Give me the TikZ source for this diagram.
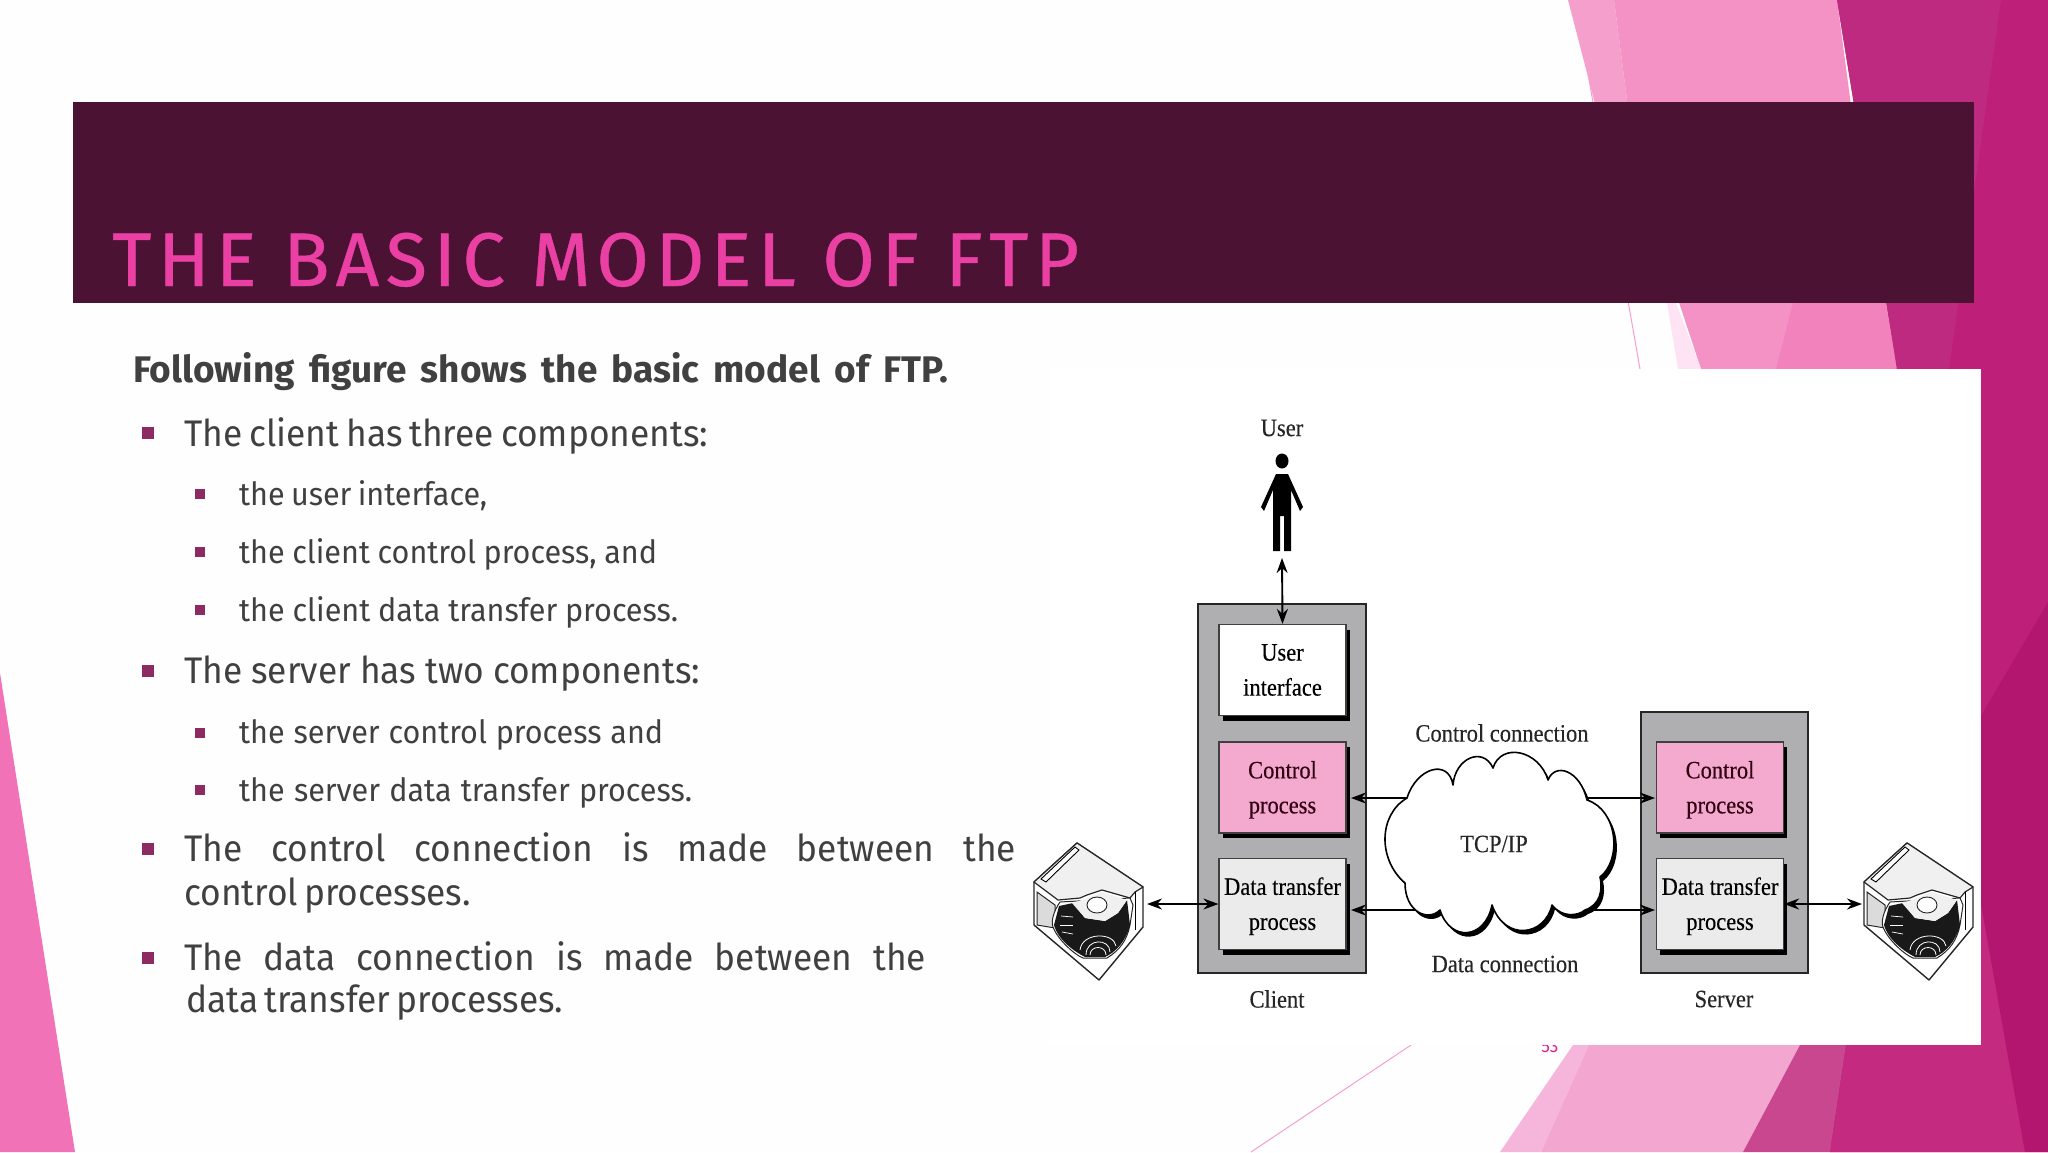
\documentclass[tikz,border=0pt]{standalone}
\usepackage{fontspec}
\usetikzlibrary{arrows.meta,shadows}
\setmainfont[FakeStretch=0.955]{Fira Sans}
\newfontfamily\leadfont{Fira Sans}
\newfontfamily\figfont[FakeStretch=0.9,FakeBold=0.25]{Liberation Serif}
\newfontfamily\titlefont[LetterSpace=8.5,FakeBold=0.6]{Fira Sans}
\definecolor{bodytext}{HTML}{404040}
\definecolor{bullet}{HTML}{8E2A62}
\definecolor{barcol}{HTML}{4B1234}
\definecolor{titlecol}{HTML}{EA3FA3}
\definecolor{outergrey}{HTML}{AFAFB1}
\definecolor{procpink}{HTML}{F4A9CE}
\definecolor{procgrey}{HTML}{EBEBEC}
\definecolor{pgback}{HTML}{FFFEFF}
\definecolor{leftpink}{HTML}{F272B8}
\definecolor{paleA}{HTML}{F5A0CC}
\definecolor{pinkA}{HTML}{F492C6}
\definecolor{pinkB}{HTML}{F282BC}
\definecolor{paleB}{HTML}{FDE3F3}
\definecolor{magA}{HTML}{BE2A80}
\definecolor{magB}{HTML}{BE1F78}
\definecolor{magC}{HTML}{C42A7F}
\definecolor{magD}{HTML}{B3166E}
\definecolor{roseA}{HTML}{C8478F}
\definecolor{lowA}{HTML}{F2A6D0}
\definecolor{lowB}{HTML}{F6B5DA}
\definecolor{pgnum}{HTML}{E0218A}
\newcommand{\txtline}[6]{\node[anchor=base west,inner sep=0pt,text=bodytext,font=#1] (#2) at (#3,#4) {\makebox[#5pt][s]{#6}};}
\newcommand{\bigbul}[2]{\fill[bullet] (#1-6,#2-6) rectangle (#1+6,#2+6);}
\newcommand{\smallbul}[2]{\fill[bullet] (#1-5,#2-5) rectangle (#1+5,#2+5);}
\newcommand{\boxpad}{\rule{0pt}{22pt}}
\newcommand{\cloudpath}{(1407,798) .. controls (1416.6,767.3) and (1448.7,758.3) .. (1453,785)
 .. controls (1455,758) and (1483,746) .. (1493,768)
 .. controls (1501,742) and (1539,750) .. (1548,780)
 .. controls (1555,762) and (1580,770) .. (1587,800)
 .. controls (1618,810) and (1622,860) .. (1600,877)
 .. controls (1603,890) and (1600,905) .. (1585,910)
 .. controls (1578,916) and (1562,918) .. (1552,905)
 .. controls (1545,936) and (1505,942) .. (1492,905)
 .. controls (1485,940) and (1450,942) .. (1440,910)
 .. controls (1428,922) and (1405,912) .. (1405,883)
 .. controls (1378,860) and (1378,815) .. (1407,798) -- cycle}
\newcommand{\diskdraw}{%
 \filldraw[fill=white,draw=black!85,line width=1.4pt,line join=round] (1077,843)--(1143,887)--(1143,927)--(1099,980)--(1034,925)--(1034,882)--cycle;
 \filldraw[fill=black!14,draw=black!85,line width=1pt] (1037,892)--(1055,905)--(1055,928)--(1037,925)--cycle;
 \filldraw[fill=black!6,draw=black!85,line width=1.2pt,line join=round] (1034,882)--(1077,843)--(1143,887)--(1135,892)--(1130,898)--(1102,890)--(1087,895)--(1080,898)--(1058,900)--cycle;
 \draw[line width=.9pt,fill=white] (1041,879)--(1075,847)--(1079,850)--(1046,882)--cycle;
 \filldraw[fill=white,draw=black!85,line width=1pt] (1060,902) .. controls (1053,912) and (1051,922) .. (1053,927) .. controls (1058,940) and (1075,955) .. (1083,958) -- (1107,958) .. controls (1120,950) and (1127,940) .. (1130,925) -- (1133,905) -- (1130,898) -- cycle;
 \fill[black!90] (1059,906)--(1073,903)--(1085,918)--(1105,921)--(1118,913)--(1127,900)--(1130,925) .. controls (1126,941) and (1116,952) .. (1105,957)--(1085,957) .. controls (1075,952) and (1058,940) .. (1054,925)--cycle;
 \fill[black!6] (1072,903)--(1085,918)--(1105,921)--(1118,913)--(1127,900)--(1102,892)--(1085,899)--cycle;
 \filldraw[fill=white,draw=black!85,line width=.9pt] (1097,905) ellipse (10pt and 8pt);
 \draw[white,line width=.8pt] (1086,955) .. controls (1086,938) and (1110,938) .. (1110,952);
 \draw[white,line width=.8pt] (1090,955) .. controls (1090,945) and (1106,945) .. (1106,955);
 \draw[white,line width=.8pt] (1080,950) .. controls (1082,932) and (1114,932) .. (1116,946);
 \draw[white,line width=.7pt] (1060,925)--(1073,925);
 \draw[white,line width=.7pt] (1062,932)--(1073,934);
 \draw[white,line width=.7pt] (1061,916)--(1073,917);
 \draw[line width=.9pt] (1135,892)--(1135,930);
}
\tikzset{
 outerbox/.style={draw=black!85,line width=1.8pt,fill=outergrey,inner sep=0pt},
 procbox/.style={draw=black!75,line width=1.2pt,minimum width=127pt,minimum height=91pt,align=center,inner sep=0pt,
   font=\figfont\fontsize{25}{35}\selectfont,
   drop shadow={shadow xshift=3.5pt,shadow yshift=-5pt,fill=black,opacity=1}},
 figlabel/.style={font=\figfont\fontsize{25}{28}\selectfont,inner sep=0pt,text=black!85},
 conn/.style={line width=1.9pt,{Stealth[length=15pt,width=11pt]}-{Stealth[length=15pt,width=11pt]}},
 connone/.style={line width=1.9pt,-{Stealth[length=15pt,width=11pt]}},
}
\begin{document}
\begin{tikzpicture}[x=1pt,y=-1pt]
\useasboundingbox (0,0) rectangle (2048,1152);
\fill[pgback] (0,0) rectangle (2048,1152);
% background facets
\fill[leftpink] (0,673)--(75,1152)--(0,1152)--cycle;
\fill[paleA] (1568,0)--(1614,0)--(1640,200)--(1620,200)--cycle;
\fill[pinkA] (1614,0)--(1837,0)--(1886,369)--(1701,369)--(1665,260)--(1640,200)--cycle;
\fill[paleB] (1667,303)--(1676,303)--(1701,369)--(1678,369)--cycle;
\fill[pinkB] (1793,303)--(1776,369)--(1897,369)--(1886,303)--cycle;
\fill[magB] (1837,0)--(2048,0)--(2048,1152)--(1830,1152)--(1897,369)--cycle;
\fill[magA] (1837,0)--(2001,0)--(1949,369)--(1897,369)--cycle;
\fill[lowB] (1573,1045)--(1589,1045)--(1541,1152)--(1500,1152)--cycle;
\fill[lowA] (1589,1045)--(1800,1045)--(1743,1152)--(1541,1152)--cycle;
\fill[roseA] (1800,1045)--(1846,1045)--(1830,1152)--(1743,1152)--cycle;
\fill[magC] (1846,1045)--(1981,1045)--(1981,904)--(2025,1152)--(1830,1152)--cycle;
\fill[magD] (1981,716)--(2048,602)--(2048,1152)--(2025,1152)--(1981,904)--cycle;
\draw[paleA,line width=1pt] (1575,0)--(1640,369);
\draw[paleA,line width=1pt] (1411,1045)--(1251,1152);
\node[text=pgnum,font=\fontsize{18}{20}\selectfont,inner sep=0pt] (pagenum) at (1550,1046) {53};
% title bar
\fill[barcol] (73,102) rectangle (1974,303);
\node[anchor=base west,inner sep=0pt,text=titlecol,font=\titlefont\fontsize{76}{80}\selectfont] (title) at (112,286) {THE BASIC MODEL OF FTP};
% figure background
\fill[white] (1050,369) rectangle (1981,1045);
% body text
\txtline{\leadfont\bfseries\fontsize{37}{44}\selectfont}{lead}{133}{382}{815}{Following figure shows the basic model of FTP.}
\bigbul{148}{433}
\txtline{\fontsize{37}{44}\selectfont}{la}{184}{446}{524}{The client has three components:}
\smallbul{200}{494}
\txtline{\fontsize{32}{40}\selectfont}{lb}{239}{505}{248}{the user interface,}
\smallbul{200}{552}
\txtline{\fontsize{32}{40}\selectfont}{lc}{239}{563}{418}{the client control process, and}
\smallbul{200}{610}
\txtline{\fontsize{32}{40}\selectfont}{ld}{239}{621}{439}{the client data transfer process.}
\bigbul{148}{671}
\txtline{\fontsize{37}{44}\selectfont}{le}{184}{683}{516}{The server has two components:}
\smallbul{200}{733}
\txtline{\fontsize{32}{40}\selectfont}{lf}{239}{743}{424}{the server control process and}
\smallbul{200}{790}
\txtline{\fontsize{32}{40}\selectfont}{lg}{239}{801}{453}{the server data transfer process.}
\bigbul{148}{849}
\txtline{\fontsize{37}{44}\selectfont}{lh}{184}{861}{832}{The control connection is made between the}
\txtline{\fontsize{37}{44}\selectfont}{li}{184}{905}{285}{control processes.}
\bigbul{148}{958}
\txtline{\fontsize{37}{44}\selectfont}{lj}{184}{970}{742}{The data connection is made between the}
\txtline{\fontsize{37}{44}\selectfont}{lk}{186}{1012}{376}{data transfer processes.}
% client
\node[outerbox,minimum width=168pt,minimum height=369pt] (client) at (1282,788.5) {};
\node[procbox,fill=white] (ui) at (1282.5,670) {User\\interface};
\node[procbox,fill=procpink,text=black!75!purple] (cpc) at (1282.5,787.5) {\boxpad Control\\process};
\node[procbox,fill=procgrey] (dtc) at (1282.5,904) {\boxpad Data transfer\\process};
% server
\node[outerbox,minimum width=167pt,minimum height=261pt] (server) at (1724.5,842.5) {};
\node[procbox,fill=procpink,text=black!75!purple] (cps) at (1720,787.5) {\boxpad Control\\process};
\node[procbox,fill=procgrey] (dts) at (1720,904) {\boxpad Data transfer\\process};
% person
\node[figlabel] (userlabel) at (1282,428) {User};
\fill[black] (1282,461) ellipse (6.5pt and 7.5pt);
\fill[black,line join=round] (1276,474)--(1288,474)--(1303,507)--(1300,511)--(1291,490)--(1291,551)--(1284,551)--(1284,516)--(1280,516)--(1280,551)--(1273,551)--(1273,490)--(1264,511)--(1261,507)--cycle;
\coordinate (usertop) at (1282,558);
\draw[conn] (usertop) -- (ui.north);
% cloud + connectors
\coordinate (cl1) at (1420,798);
\coordinate (cl2) at (1420,910);
\coordinate (cr1) at (1575,798);
\coordinate (cr2) at (1570,910);
\coordinate (cpcr) at (1351,798);
\coordinate (dtcr) at (1351,910);
\coordinate (cpsl) at (1655,798);
\coordinate (dtsl) at (1655,910);
\draw[connone] (cl1) -- (cpcr);
\draw[connone] (cl2) -- (dtcr);
\draw[connone] (cr1) -- (cpsl);
\draw[connone] (cr2) -- (dtsl);
\fill[black,xshift=3pt,yshift=-4pt] \cloudpath;
\filldraw[fill=white,draw=black,line width=1.6pt,line join=round] \cloudpath;
\node[figlabel] (tcplabel) at (1494,844) {TCP/IP};
\node[figlabel] (cc) at (1502,733) {Control connection};
\node[figlabel] (dc) at (1505,964) {Data connection};
\node[figlabel] (clientlabel) at (1277,999) {Client};
\node[figlabel] (serverlabel) at (1724,999) {Server};
% disks
\diskdraw
\begin{scope}[xshift=830pt]\diskdraw\end{scope}
\coordinate (diskl) at (1147,904);
\coordinate (diskr) at (1862,904);
\draw[conn] (diskl) -- (dtc.west);
\draw[conn] (dts.east) -- (diskr);
\end{tikzpicture}
\end{document}
